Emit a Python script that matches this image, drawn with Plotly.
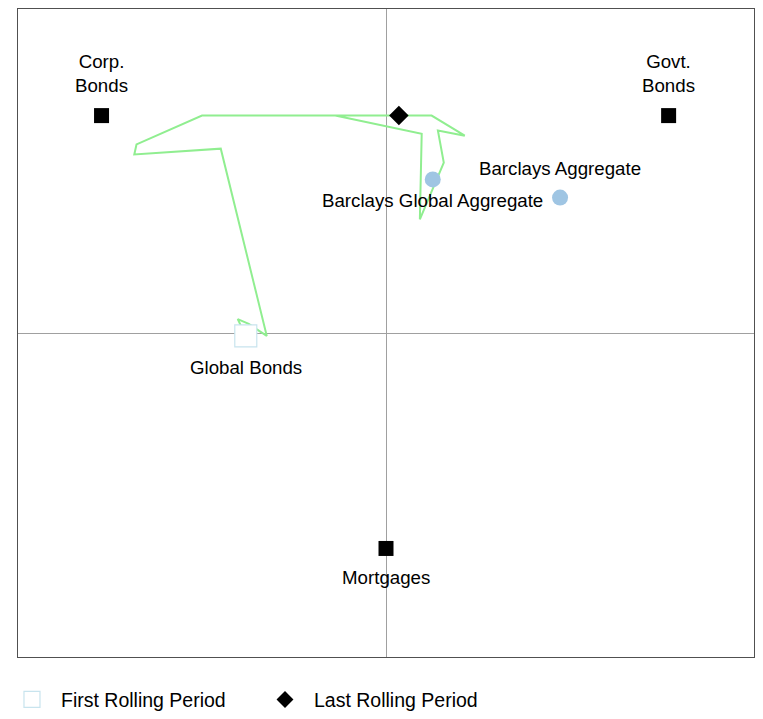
import plotly.graph_objects as go

# ── Data ──────────────────────────────────────────────────────────────────────
# Style corners (asset-class reference points)
corner_names = ["Corp.<br>Bonds", "Govt.<br>Bonds", "Mortgages"]
corner_x = [-0.773, 0.768, 0.0]
corner_y = [0.671, 0.671, -0.665]

# Benchmarks
bench_names = ["Barclays Aggregate", "Barclays Global Aggregate"]
bench_x = [0.473, 0.127]
bench_y = [0.418, 0.474]

# Rolling style path of the fund (first -> last)
path_x = [-0.381, -0.403, -0.373, -0.341, -0.324, -0.449, -0.684, -0.678,
          -0.500, 0.124, 0.214, 0.141, 0.157, 0.092, 0.097, -0.138, 0.035]
path_y = [-0.009, 0.043, 0.028, 0.003, -0.009, 0.569, 0.551, 0.582,
          0.671, 0.671, 0.609, 0.625, 0.526, 0.351, 0.615, 0.671, 0.671]

fund_name = "Global Bonds"

FONT = "Arial, Liberation Sans, sans-serif"
GREEN = "#90ee90"
BLUE = "#9fc5e3"
HOLLOW = "#c8e4ee"

fig = go.Figure()

# trail
fig.add_trace(go.Scatter(
    x=path_x, y=path_y, mode="lines",
    line=dict(color=GREEN, width=2), showlegend=False, hoverinfo="skip",
))

# corners
fig.add_trace(go.Scatter(
    x=corner_x, y=corner_y, mode="markers",
    marker=dict(symbol="square", size=15, color="black"),
    showlegend=False,
))

# benchmarks
fig.add_trace(go.Scatter(
    x=bench_x, y=bench_y, mode="markers",
    marker=dict(symbol="circle", size=16, color=BLUE),
    showlegend=False,
))

# first rolling period
fig.add_trace(go.Scatter(
    x=path_x[:1], y=path_y[:1], mode="markers", name="First Rolling Period",
    marker=dict(symbol="square", size=22, color="white",
                line=dict(color=HOLLOW, width=1.2)),
    showlegend=False,
))
# last rolling period
fig.add_trace(go.Scatter(
    x=path_x[-1:], y=path_y[-1:], mode="markers", name="Last Rolling Period",
    marker=dict(symbol="diamond", size=15, color="black"),
    showlegend=False,
))

# legend-only entries (legend symbols are smaller than plot markers)
fig.add_trace(go.Scatter(
    x=[None], y=[None], mode="markers", name="First Rolling Period",
    marker=dict(symbol="square", size=16, color="white",
                line=dict(color=HOLLOW, width=1.2)),
))
fig.add_trace(go.Scatter(
    x=[None], y=[None], mode="markers", name="Last Rolling Period",
    marker=dict(symbol="diamond", size=13, color="black"),
))

# labels
txt = dict(size=18.7, color="black", family=FONT)
for name, x, y, dy in zip(corner_names, corner_x, corner_y, [42, 42, -29]):
    fig.add_annotation(x=x, y=y, text=name, showarrow=False, yshift=dy, font=txt)
for name, x, y, dy in zip(bench_names, bench_x, bench_y, [29, -21]):
    fig.add_annotation(x=x, y=y, text=name, showarrow=False, yshift=dy, font=txt)
fig.add_annotation(x=path_x[0], y=path_y[0], text=fund_name, showarrow=False,
                   yshift=-32, font=txt)

axis = dict(range=[-1, 1], showgrid=False, showticklabels=False, ticks="",
            zeroline=True, zerolinecolor="#a0a0a0", zerolinewidth=1,
            showline=True, linecolor="#505050", linewidth=1, mirror=True,
            fixedrange=True)

# page body keeps an 8px margin, so the figure is sized to fit inside it
fig.update_layout(
    width=747, height=703,
    margin=dict(l=10, r=1, t=1, b=54, autoexpand=False),
    paper_bgcolor="white", plot_bgcolor="white",
    font=dict(family=FONT, color="black"),
    xaxis=axis, yaxis=axis,
    legend=dict(orientation="h", x=-0.0204, xanchor="left", y=-0.066,
                yanchor="middle", font=dict(size=19.5, family=FONT),
                itemwidth=48, entrywidth=190, bgcolor="rgba(0,0,0,0)"),
)

fig.write_html("out.html")
